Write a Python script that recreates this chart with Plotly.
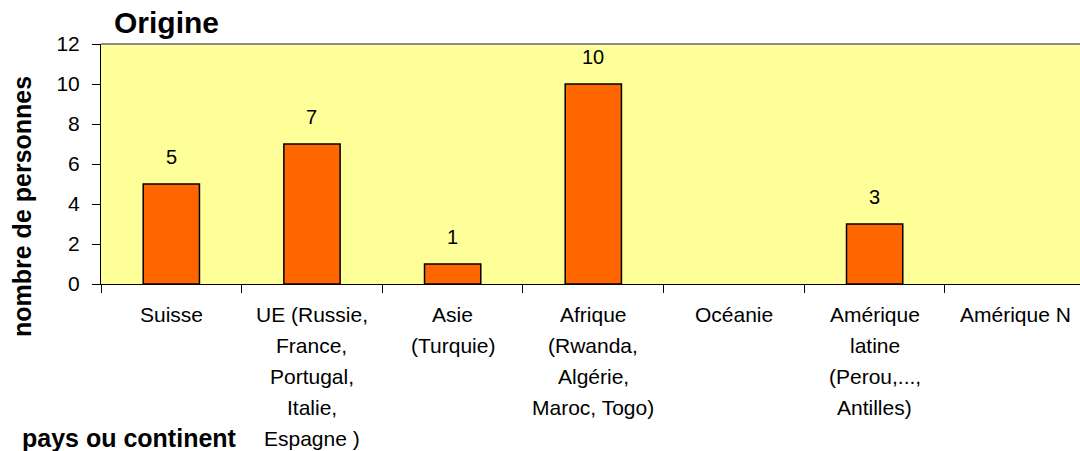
import plotly.graph_objects as go

# Survey counts by country / continent of origin
categories = ["Suisse", "UE", "Asie", "Afrique", "Océanie", "Amérique latine", "Amérique N"]
category_lines = [
    ["Suisse"],
    ["UE (Russie,", "France,", "Portugal,", "Italie,", "Espagne )"],
    ["Asie", "(Turquie)"],
    ["Afrique", "(Rwanda,", "Algérie,", "Maroc, Togo)"],
    ["Océanie"],
    ["Amérique", "latine", "(Perou,...,", "Antilles)"],
    ["Amérique N"],
]
counts = [5, 7, 1, 10, 0, 3, 0]
y_ticks = [0, 2, 4, 6, 8, 10, 12]

FONT = "Liberation Sans, Arial, sans-serif"
W, H = 1080, 451
M_L, M_R, M_T, M_B = 101, 0, 44, 167
plot_h = H - M_T - M_B
plot_w = W - M_L - M_R

# empty categories get no bar at all
bar_heights = [v if v else None for v in counts]

fig = go.Figure(
    go.Bar(
        x=categories,
        y=bar_heights,
        width=0.4,
        marker=dict(color="#FF6600", line=dict(color="#000000", width=1.5)),
        hoverinfo="x+y",
    )
)

annotations = []

# value labels above each non-empty bar
for cat, v in zip(categories, counts):
    if v:
        annotations.append(dict(
            x=cat, y=v, xref="x", yref="y", text=str(v), showarrow=False,
            yshift=27, yanchor="middle",
            font=dict(family=FONT, size=20, color="#000000"),
        ))

# multi-line category labels below the axis
for cat, lines in zip(categories, category_lines):
    for i, line in enumerate(lines):
        annotations.append(dict(
            x=cat, y=0, xref="x", yref="paper", text=line, showarrow=False,
            yshift=-(30 + 31 * i), yanchor="middle", xanchor="center",
            font=dict(family=FONT, size=21, color="#000000"),
        ))

# axis titles
annotations.append(dict(
    x=(22 - M_L) / plot_w, y=(284 - 207) / plot_h, xref="paper", yref="paper",
    text="<b>nombre de personnes</b>", textangle=-90, showarrow=False,
    xanchor="center", yanchor="middle",
    font=dict(family=FONT, size=25, color="#000000"),
))
annotations.append(dict(
    x=(20 - M_L) / plot_w, y=0, xref="paper", yref="paper",
    text="<b>pays ou continent</b>", showarrow=False,
    xanchor="left", yanchor="middle", yshift=-154,
    font=dict(family=FONT, size=25, color="#000000"),
))

fig.update_layout(
    width=W, height=H,
    margin=dict(l=M_L, r=M_R, t=M_T, b=M_B, pad=0),
    paper_bgcolor="#FFFFFF",
    plot_bgcolor="#FFFF99",
    showlegend=False,
    title=dict(
        text="<b>Origine</b>", xref="container", yref="container",
        x=114 / W, xanchor="left", y=1 - 22 / H, yanchor="middle",
        font=dict(family=FONT, size=30, color="#000000"),
    ),
    annotations=annotations,
    shapes=[dict(type="line", xref="paper", yref="paper", x0=0, x1=1, y0=1, y1=1,
                 line=dict(color="#8C8C8C", width=2))],
    xaxis=dict(
        type="category", categoryorder="array", categoryarray=categories,
        range=[-0.5, 6.46], tickson="boundaries", ticks="outside", ticklen=8,
        tickcolor="#000000", showticklabels=False, showline=True,
        linecolor="#000000", linewidth=1, showgrid=False, zeroline=False,
        fixedrange=True,
    ),
    yaxis=dict(
        range=[0, 12], tickvals=y_ticks, ticks="outside", ticklen=8,
        tickcolor="#000000", showline=True, linecolor="#000000", linewidth=1,
        showgrid=False, zeroline=False, ticklabelstandoff=8,
        tickfont=dict(family=FONT, size=21, color="#000000"),
        fixedrange=True,
    ),
)

fig.write_html("out.html")
